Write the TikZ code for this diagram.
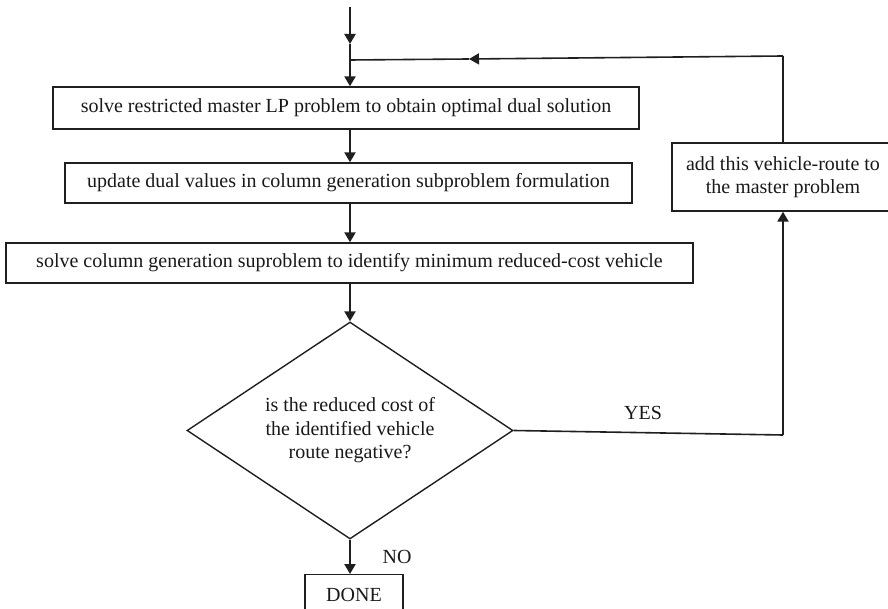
\documentclass[tikz,border=0pt]{standalone}
\usepackage{fontspec}
\setmainfont{Liberation Serif}
\usetikzlibrary{arrows.meta,shapes.geometric}
\begin{document}
\begin{tikzpicture}[x=1pt,y=-1pt,
  every node/.style={font=\fontsize{20}{23.5}\selectfont, text=black!90},
  procbox/.style={draw=black!88, line width=1.4pt, inner sep=0pt, align=center},
  flow/.style={draw=black!88, line width=2.2pt, -{Triangle[length=10pt,width=11pt]}},
  plain/.style={draw=black!88, line width=1.6pt},
  lbl/.style={inner sep=0pt}]
\useasboundingbox (0,0) rectangle (888,609);
% boxes
\node[procbox, minimum width=586pt, minimum height=42pt] (b1) at (346,108)
  {solve restricted master LP problem to obtain optimal dual solution};
\node[procbox, minimum width=567pt, minimum height=40pt] (b2) at (348.5,183)
  {update dual values in column generation subproblem formulation};
\node[procbox, minimum width=687pt, minimum height=40pt] (b3) at (349.5,263)
  {solve column generation suproblem to identify minimum reduced-cost vehicle};
\node[procbox, minimum width=222pt, minimum height=68pt] (add) at (783,177)
  {add this vehicle-route to\\the master problem};
\node[draw=black!88, line width=1.4pt, shape=diamond, aspect=1.5, inner sep=0pt, align=center,
  minimum width=326pt, minimum height=217pt] (dia) at (350,430.5)
  {is the reduced cost of\\the identified vehicle\\route negative?};
\node[procbox, minimum width=98pt, minimum height=40pt, anchor=north] (done) at (354,574)
  {DONE};
% labels
\node[lbl] (yes) at (643,413) {YES};
\node[lbl] (no) at (397,557) {NO};
% coordinates
\coordinate (start) at (350,7);
\coordinate (mid) at (350,44);
\coordinate (junc) at (350,60);
\coordinate (rt) at (783,56);
\coordinate (retarrow) at (469,59);
\coordinate (yc) at (783,435);
% connectors
\draw[flow] (start) -- (mid);
\draw[draw=black!88, line width=2.2pt] (mid) -- (junc);
\draw[flow] (junc) -- (b1.north -| junc);
\draw[flow] (b1.south -| junc) -- (b2.north -| junc);
\draw[flow] (b2.south -| junc) -- (b3.north -| junc);
\draw[flow] (b3.south -| junc) -- (dia.north);
\draw[flow] (dia.south) -- (done.north -| dia.south);
\draw[plain] (dia.east) -- (yc);
\draw[flow] (yc) -- (add.south);
\draw[plain] (add.north) -- (rt);
\draw[plain, -{Triangle[length=10pt,width=11pt]}] (rt) -- (retarrow);
\draw[plain] (retarrow) -- (junc);
\end{tikzpicture}
\end{document}
